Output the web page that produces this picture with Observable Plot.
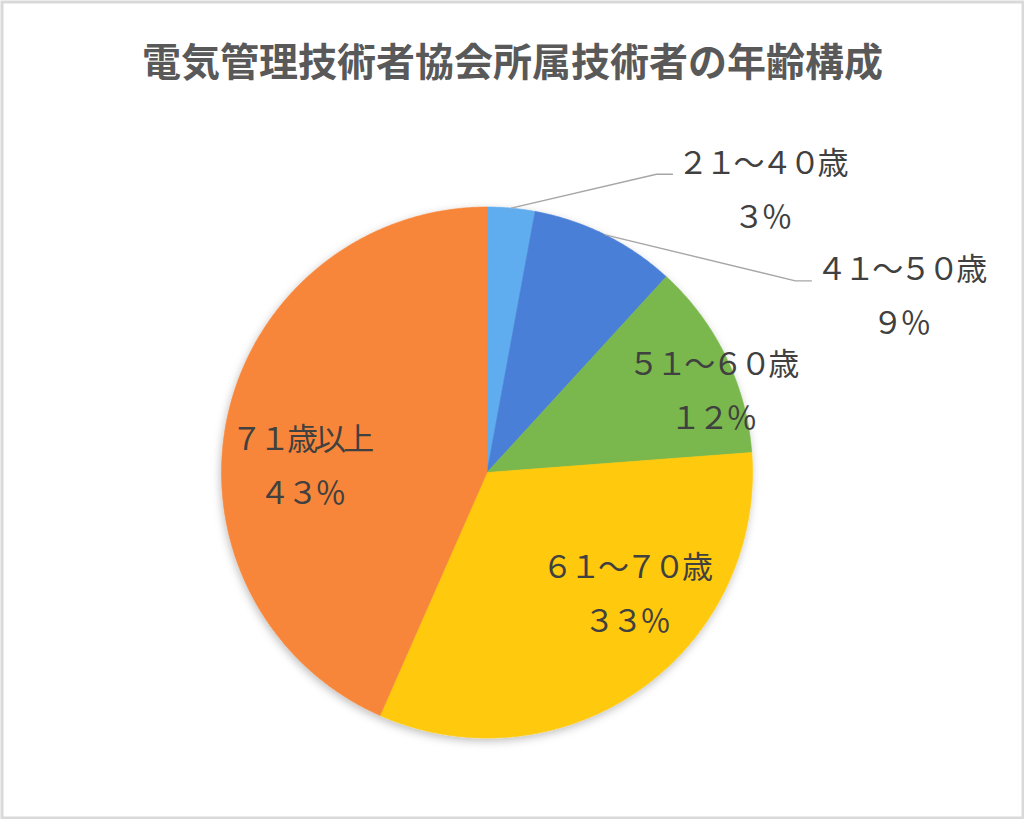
<!DOCTYPE html>
<html>
<head>
<meta charset="utf-8">
<script src="https://cdn.jsdelivr.net/npm/d3@7"></script>
<script src="https://cdn.jsdelivr.net/npm/@observablehq/plot@0.6"></script>
<style>
  html, body { margin: 0; padding: 0; background: #ffffff; }
  #chart svg { display: block; }
</style>
</head>
<body>
<div id="chart"></div>
<script>
// ---- data ----
const title = "電気管理技術者協会所属技術者の年齢構成";
const categories = ["21～40歳", "41～50歳", "51～60歳", "61～70歳", "71歳以上"];
const shares = [2.9, 8.9, 12.0, 32.8, 43.4];
const colors = ["#5fadee", "#4a7fd6", "#7ab84e", "#ffc90a", "#f7863a"];

// ---- layout (not data) ----
const W = 1024, H = 819;
const cx = 486.5, cy = 472, R = 265.5;
// label placement: polar angle (deg, clockwise from 12 o'clock) and radius factor
const labelAngle = [44.3, 67.1, 70.5, 131.6, 271.5];
const labelRadius = [1.48, 1.69, 0.90, 0.70, 0.70];
const outside = [true, true, false, false, false];
const fontSize = 31;
const labelHalfWidth = 84;

const toFull = s => s.replace(/[0-9%]/g, c => String.fromCharCode(c.charCodeAt(0) + 0xFEE0));

// cumulative shares
const total = d3.sum(shares);
const cum = [0];
shares.forEach((v, i) => cum.push(cum[i] + v));

// slice polygons (unit-circle coordinates, y up)
const slicePts = [];
categories.forEach((cat, i) => {
  const a0 = cum[i] / total * 2 * Math.PI;
  const a1 = cum[i + 1] / total * 2 * Math.PI;
  const n = Math.max(2, Math.ceil((a1 - a0) / (Math.PI / 360)));
  slicePts.push({cat, x: 0, y: 0});
  for (let k = 0; k <= n; k++) {
    const a = a0 + (a1 - a0) * k / n;
    slicePts.push({cat, x: Math.sin(a), y: Math.cos(a)});
  }
});

// labels
const labels = categories.map((cat, i) => {
  const a = labelAngle[i] * Math.PI / 180;
  return {
    cat,
    x: labelRadius[i] * Math.sin(a),
    y: labelRadius[i] * Math.cos(a),
    text: toFull(cat) + "\n" + toFull(Math.round(shares[i] / total * 100) + "%")
  };
});

// leader lines for outside labels
const leaders = [];
categories.forEach((cat, i) => {
  if (!outside[i]) return;
  const mid = (cum[i] + cum[i + 1]) / 2 / total * 2 * Math.PI;
  const lab = labels[i];
  const endX = lab.x - (labelHalfWidth + 5) / R;
  const endY = lab.y + 17 / R;
  leaders.push({cat, x: Math.sin(mid), y: Math.cos(mid)});
  leaders.push({cat, x: endX - 16 / R, y: endY});
  leaders.push({cat, x: endX, y: endY});
});

const chart = Plot.plot({
  width: W,
  height: H,
  margin: 0,
  x: {axis: null, domain: [-cx / R, (W - cx) / R], range: [0, W]},
  y: {axis: null, domain: [-(H - cy) / R, cy / R], range: [H, 0]},
  color: {domain: categories, range: colors},
  style: {fontFamily: "'Noto Sans CJK JP', 'Noto Sans', sans-serif", background: "#ffffff"},
  marks: [
    Plot.frame({stroke: "#d9d9d9", strokeWidth: 3, inset: 1.5}),
    Plot.line(slicePts, {x: "x", y: "y", z: "cat", fill: "cat", stroke: "cat", strokeWidth: 0.6, curve: "linear-closed"}),
    Plot.line(leaders, {x: "x", y: "y", z: "cat", stroke: "#a6a6a6", strokeWidth: 1.4}),
    Plot.text(labels, {x: "x", y: "y", dy: -8, text: "text", fontSize, lineHeight: 1.75, fill: "#404040"}),
    Plot.text([title], {frameAnchor: "top", dy: 63, text: d => d, fontSize: 39, fontWeight: "bold", fill: "#595959", lineAnchor: "middle"})
  ]
});

// soft drop shadow under the pie
const svgNS = "http://www.w3.org/2000/svg";
const defs = document.createElementNS(svgNS, "defs");
defs.innerHTML = '<filter id="pieShadow" x="-10%" y="-10%" width="120%" height="125%"><feDropShadow dx="-1" dy="3" stdDeviation="4" flood-color="#000" flood-opacity="0.25"/></filter>';
chart.insertBefore(defs, chart.firstChild);
const pieG = chart.querySelectorAll('g[aria-label="line"]')[0];
if (pieG) pieG.setAttribute("filter", "url(#pieShadow)");
// tighten label tracking (full-width glyphs)
const labelG = chart.querySelectorAll('g[aria-label="text"]')[0];
if (labelG) labelG.setAttribute("letter-spacing", "-3");

document.getElementById("chart").appendChild(chart);
</script>
</body>
</html>
